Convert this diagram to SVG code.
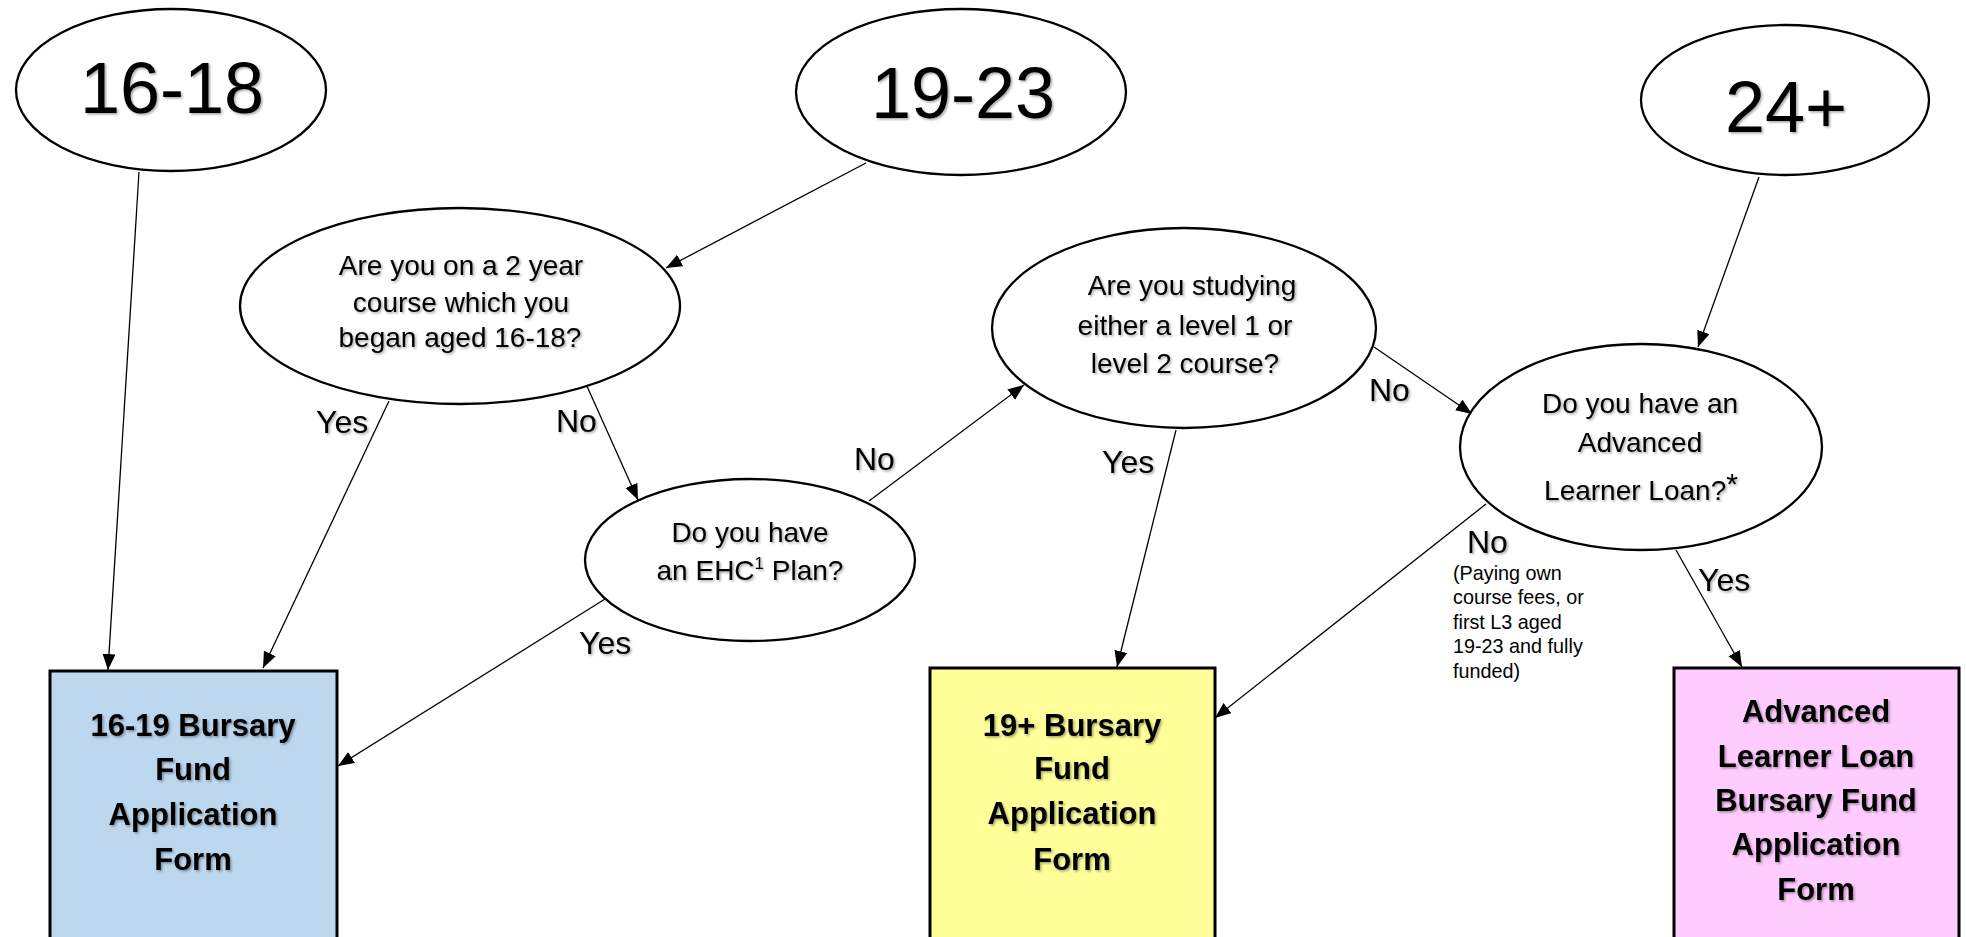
<svg xmlns="http://www.w3.org/2000/svg" width="1966" height="937" viewBox="0 0 1966 937">
<style>
  .node { fill: #ffffff; stroke: #000000; stroke-width: 2.3; }
  .box { stroke: #000000; stroke-width: 3; }
  .t { font-family: "Liberation Sans", Arial, sans-serif; fill: #000000; text-anchor: middle; filter: url(#sh); }
  .big { font-size: 72px; }
  .q { font-size: 28px; }
  .b { font-size: 31px; font-weight: bold; }
  .lbl { font-family: "Liberation Sans", Arial, sans-serif; font-size: 32px; fill: #000000; filter: url(#sh); }
  .small { font-family: "Liberation Sans", Arial, sans-serif; font-size: 19.8px; fill: #000000; }
  .edge { stroke: #000000; stroke-width: 1.3; fill: none; marker-end: url(#arr); }
</style>
<defs>
  <marker id="arr" markerUnits="userSpaceOnUse" markerWidth="17" markerHeight="14" refX="16" refY="6.5" orient="auto">
    <path d="M0,0 L16,6.5 L0,13 z" fill="#000000"/>
  </marker>
  <filter id="sh" x="-10%" y="-20%" width="130%" height="150%">
    <feDropShadow dx="1.5" dy="1.5" stdDeviation="0.9" flood-color="#000000" flood-opacity="0.35"/>
  </filter>
</defs>
<rect x="0" y="0" width="1966" height="937" fill="#ffffff"/>

<g id="connectors">
  <line class="edge" x1="139" y1="172" x2="108" y2="670"/>
  <line class="edge" x1="866" y1="163" x2="666" y2="268"/>
  <line class="edge" x1="389" y1="401" x2="263" y2="668"/>
  <line class="edge" x1="586" y1="384" x2="638" y2="500"/>
  <line class="edge" x1="605" y1="599" x2="338" y2="766"/>
  <line class="edge" x1="869" y1="501" x2="1024" y2="385"/>
  <line class="edge" x1="1176" y1="430" x2="1117" y2="667"/>
  <line class="edge" x1="1374" y1="347" x2="1472" y2="414"/>
  <line class="edge" x1="1759" y1="177" x2="1698" y2="347"/>
  <line class="edge" x1="1486" y1="504" x2="1215" y2="718"/>
  <line class="edge" x1="1676" y1="550" x2="1742" y2="667"/>
</g>

<g id="labels">
  <text class="lbl" x="316" y="433">Yes</text>
  <text class="lbl" x="556" y="432">No</text>
  <text class="lbl" x="854" y="470">No</text>
  <text class="lbl" x="1102" y="473">Yes</text>
  <text class="lbl" x="579" y="654">Yes</text>
  <text class="lbl" x="1369" y="401">No</text>
  <text class="lbl" x="1467" y="553">No</text>
  <text class="lbl" x="1698" y="591">Yes</text>
  <text class="small" x="1453" y="580">(Paying own</text>
  <text class="small" x="1453" y="604">course fees, or</text>
  <text class="small" x="1453" y="629">first L3 aged</text>
  <text class="small" x="1453" y="653">19-23 and fully</text>
  <text class="small" x="1453" y="678">funded)</text>
</g>

<g id="age1618">
  <ellipse class="node" cx="171" cy="90" rx="155" ry="81"/>
  <text class="t big" x="172" y="113">16-18</text>
</g>
<g id="age1923">
  <ellipse class="node" cx="961" cy="92" rx="165" ry="83"/>
  <text class="t big" x="963" y="118">19-23</text>
</g>
<g id="age24">
  <ellipse class="node" cx="1785" cy="100" rx="144" ry="75"/>
  <text class="t big" x="1786" y="132">24+</text>
</g>

<g id="q-two-year">
  <ellipse class="node" cx="460" cy="306" rx="220" ry="98"/>
  <text class="t q" x="461" y="275">Are you on a 2 year</text>
  <text class="t q" x="461" y="312">course which you</text>
  <text class="t q" x="460" y="347">began aged 16-18?</text>
</g>
<g id="q-ehc">
  <ellipse class="node" cx="750" cy="560" rx="165" ry="81"/>
  <text class="t q" x="750" y="542">Do you have</text>
  <text class="t q" x="750" y="580">an EHC<tspan font-size="17" dy="-11">1</tspan><tspan dy="11"> Plan?</tspan></text>
</g>
<g id="q-level">
  <ellipse class="node" cx="1184" cy="328" rx="192" ry="100"/>
  <text class="t q" x="1192" y="295">Are you studying</text>
  <text class="t q" x="1185" y="335">either a level 1 or</text>
  <text class="t q" x="1185" y="373">level 2 course?</text>
</g>
<g id="q-loan">
  <ellipse class="node" cx="1641" cy="447" rx="181" ry="103"/>
  <text class="t q" x="1640" y="413">Do you have an</text>
  <text class="t q" x="1640" y="452">Advanced</text>
  <text class="t q" x="1641" y="500">Learner Loan?<tspan font-size="30" dy="-6">*</tspan></text>
</g>

<g id="form-1619">
  <rect class="box" x="50" y="671" width="287" height="300" fill="#bdd7ee"/>
  <text class="t b" x="193" y="736">16-19 Bursary</text>
  <text class="t b" x="193" y="780">Fund</text>
  <text class="t b" x="193" y="825">Application</text>
  <text class="t b" x="193" y="870">Form</text>
</g>
<g id="form-19plus">
  <rect class="box" x="930" y="668" width="285" height="300" fill="#ffff99"/>
  <text class="t b" x="1072" y="736">19+ Bursary</text>
  <text class="t b" x="1072" y="779">Fund</text>
  <text class="t b" x="1072" y="824">Application</text>
  <text class="t b" x="1072" y="870">Form</text>
</g>
<g id="form-loan">
  <rect class="box" x="1674" y="668" width="285" height="300" fill="#ffccff"/>
  <text class="t b" x="1816" y="722">Advanced</text>
  <text class="t b" x="1816" y="767">Learner Loan</text>
  <text class="t b" x="1816" y="811">Bursary Fund</text>
  <text class="t b" x="1816" y="855">Application</text>
  <text class="t b" x="1816" y="900">Form</text>
</g>
</svg>
